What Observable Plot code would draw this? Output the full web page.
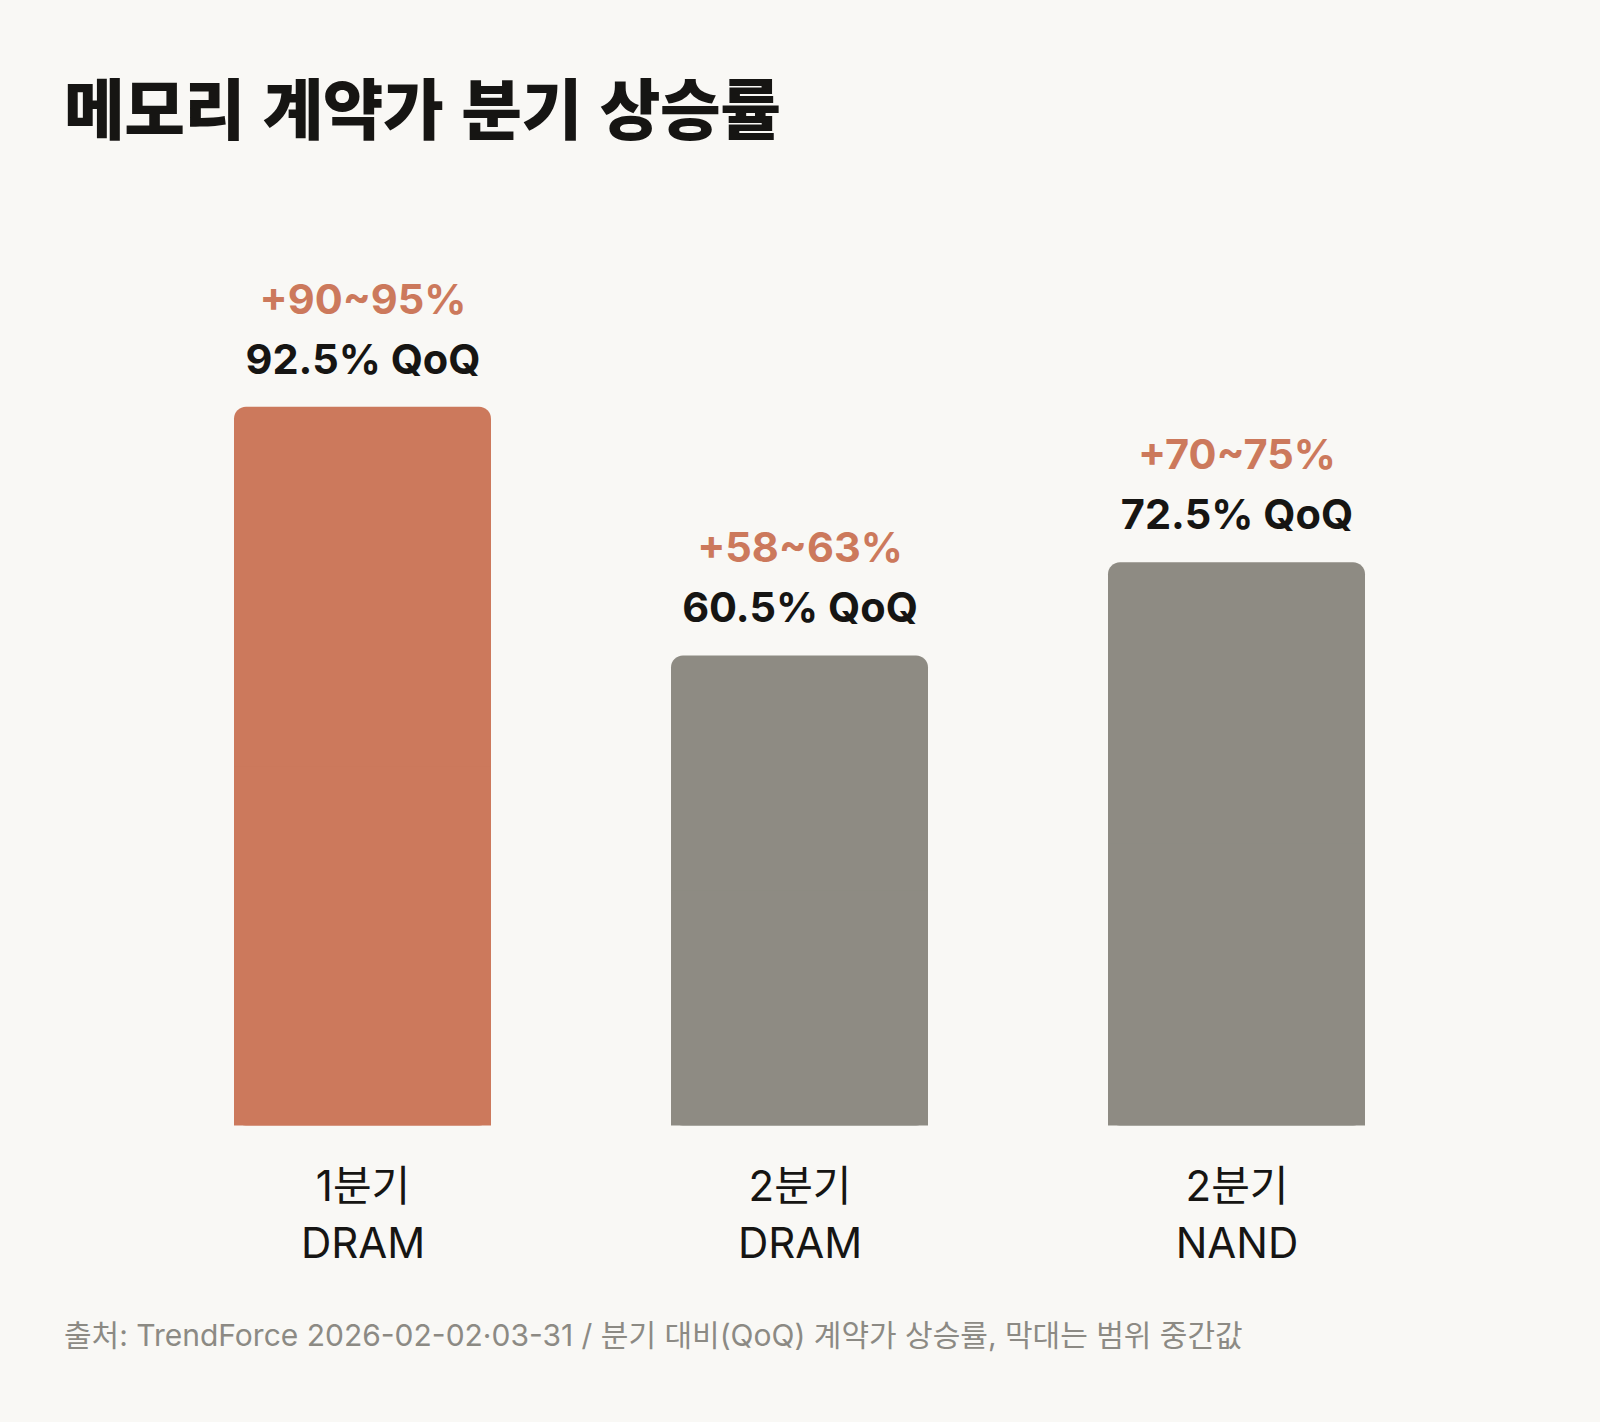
<!DOCTYPE html>
<html lang="ko">
<head>
<meta charset="utf-8">
<script src="https://cdn.jsdelivr.net/npm/d3@7"></script>
<script src="https://cdn.jsdelivr.net/npm/@observablehq/plot@0.6"></script>
<style>
  html, body { margin: 0; padding: 0; background: #f9f8f5; }
  body { width: 1600px; height: 1422px; position: relative; overflow: hidden;
         font-family: Inter, "Noto Sans CJK KR", sans-serif; }
  #title { position: absolute; left: 64px; top: 72px; margin: 0;
           font-family: "Noto Sans CJK KR", sans-serif; font-weight: 800;
           font-size: 66px; line-height: 1; letter-spacing: -0.5px; color: #161513; }
  #chart { position: absolute; left: 0; top: 180px; }
  #source { position: absolute; left: 64px; top: 1317px; margin: 0;
            font-family: Inter, "Noto Sans CJK KR", sans-serif; font-size: 30px;
            line-height: 1.2; color: #8c8a84; }
</style>
</head>
<body>
<h1 id="title">메모리 계약가 분기 상승률</h1>
<div id="chart"></div>
<p id="source">출처: TrendForce 2026-02-02·03-31 / 분기 대비(QoQ) 계약가 상승률, 막대는 범위 중간값</p>
<script>
// Quarter / product categories (two-line axis labels)
const categories = ["1분기\nDRAM", "2분기\nDRAM", "2분기\nNAND"];
// Midpoint of each contract-price range, % QoQ
const midpoints = [92.5, 60.5, 72.5];
// Reported ranges shown above each bar
const ranges = ["+90~95%", "+58~63%", "+70~75%"];
// Highlighted category
const highlight = [true, false, false];

const data = categories.map((cat, i) => ({
  cat,
  value: midpoints[i],
  range: ranges[i],
  label: `${midpoints[i]}% QoQ`,
  hot: highlight[i]
}));

const orange = "#cc795c";
const grey = "#8e8b83";
const ink = "#161513";

const chart = Plot.plot({
  width: 1600,
  height: 1110,
  marginTop: 168.5,
  marginBottom: 164.5,
  style: { background: "transparent", fontFamily: "Inter, 'Noto Sans CJK KR', sans-serif" },
  x: { domain: categories, range: [233.7, 1365.3], paddingInner: 0.412, paddingOuter: 0, axis: null },
  y: { domain: [0, 100], axis: null },
  color: { domain: [true, false], range: [orange, grey] },
  marks: [
    // rounded bar body
    Plot.barY(data, { x: "cat", y: "value", fill: "hot", rx: 12, ry: 12 }),
    // square off the bottom corners
    Plot.barY(data, { x: "cat", y1: 0, y2: d => d.value / 2, fill: "hot" }),
    // midpoint label
    Plot.text(data, { x: "cat", y: "value", text: "label", lineAnchor: "bottom", dy: -33.5,
                      fontSize: 41.5, fontWeight: 700, fill: ink, style: { letterSpacing: "-0.3px" } }),
    // range label
    Plot.text(data, { x: "cat", y: "value", text: "range", lineAnchor: "bottom", dy: -93.5,
                      fontSize: 41.5, fontWeight: 700, fill: orange, style: { letterSpacing: "-0.3px" } }),
    Plot.axisX({ anchor: "bottom", tickSize: 0, tickPadding: 35, fontSize: 42, lineHeight: 1.35,
                 label: null, color: ink, fill: ink })
  ]
});

chart.querySelectorAll("text").forEach(t => t.setAttribute("fill-opacity", 1));
document.getElementById("chart").appendChild(chart);
</script>
</body>
</html>
